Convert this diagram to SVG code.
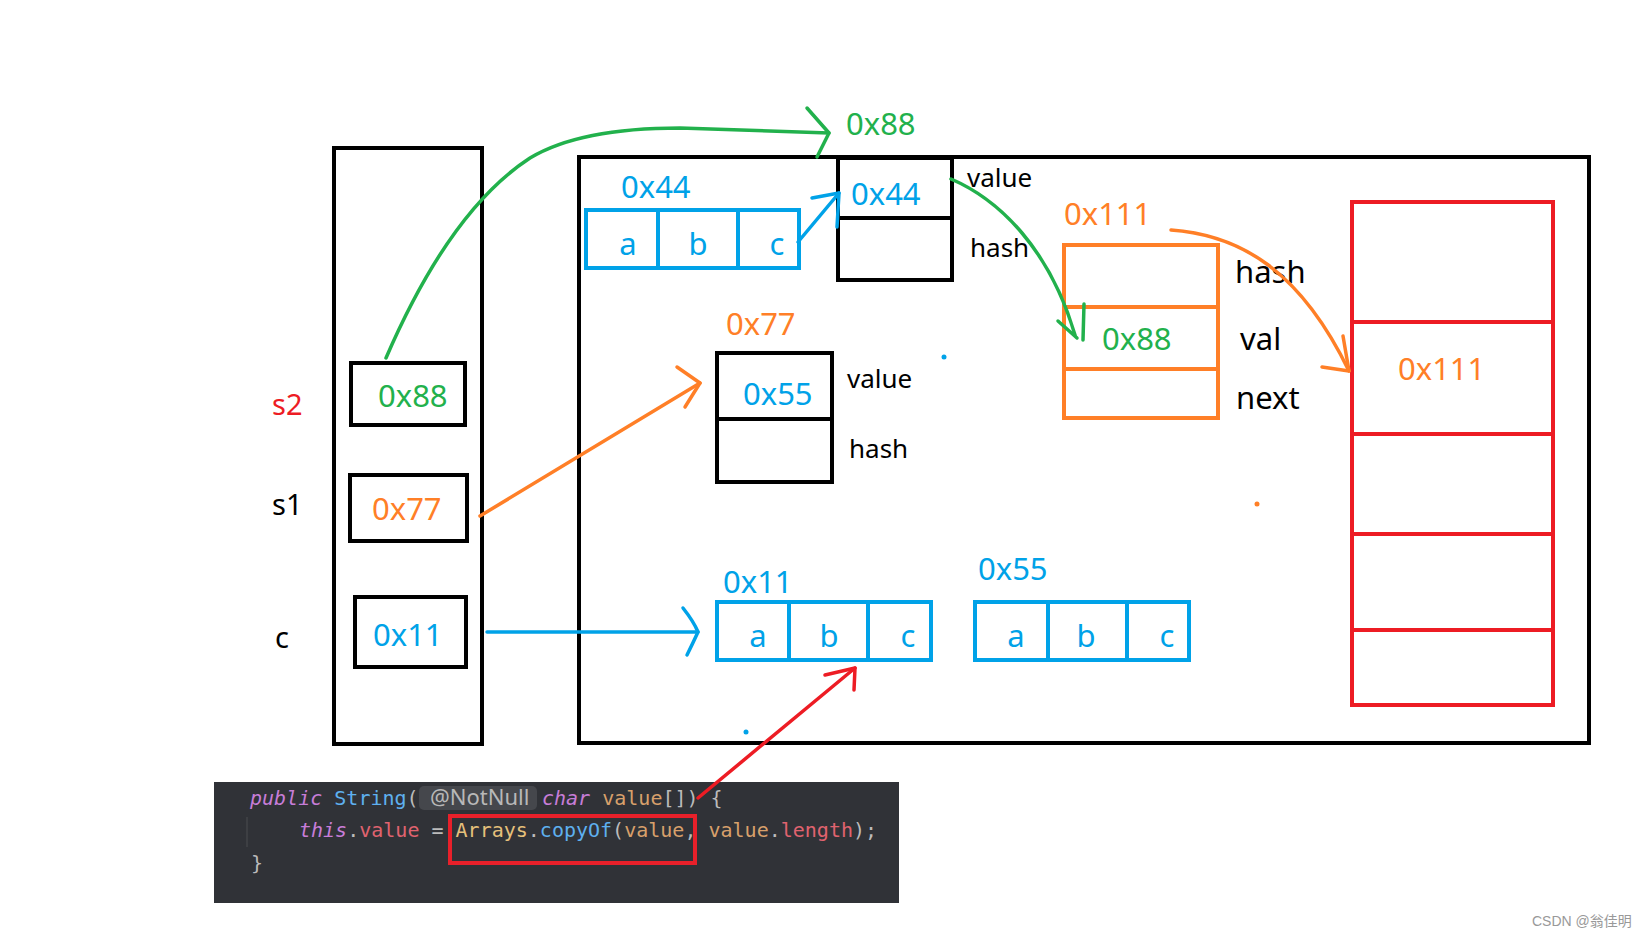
<svg xmlns="http://www.w3.org/2000/svg" width="1647" height="937" viewBox="0 0 1647 937">
<style>
text{font-family:"Noto Sans","Open Sans","Liberation Sans",sans-serif}
.k{fill:none;stroke:#000;stroke-width:4}
.bl{fill:none;stroke:#00a2e8;stroke-width:4}
.rd{fill:none;stroke:#ed1c24;stroke-width:4}
.or{fill:none;stroke:#ff7f27;stroke-width:4}
.t{font-size:31px}
.s{font-size:26px}
.g{fill:#22b14c}.b{fill:#00a2e8}.o{fill:#ff7f27}.r{fill:#ed1c24}.n{fill:#000}
.ag{fill:none;stroke:#22b14c;stroke-width:3.5;stroke-linecap:round;stroke-linejoin:round}
.ab{fill:none;stroke:#00a2e8;stroke-width:3.5;stroke-linecap:round;stroke-linejoin:round}
.ao{fill:none;stroke:#ff7f27;stroke-width:3.5;stroke-linecap:round;stroke-linejoin:round}
.ar{fill:none;stroke:#ed1c24;stroke-width:3.5;stroke-linecap:round;stroke-linejoin:round}
.code{font-family:"DejaVu Sans Mono","Liberation Mono",monospace;font-size:20px;fill:#bbbbbb}
.kw{fill:#c77dd8;font-style:italic}
.fn{fill:#5eb0ef}.ty{fill:#5eb0ef}.pa{fill:#d8a06b}.fi{fill:#e0636f}.cl{fill:#e5c07b}
</style>
<rect width="1647" height="937" fill="#fff"/>

<g id="stack">
<rect class="k" x="334" y="148" width="148" height="596"/>
<text class="t r" x="272" y="415" style="font-size:29px">s2</text>
<text class="t n" x="272" y="515" style="font-size:29px">s1</text>
<text class="t n" x="275" y="648" style="font-size:29px">c</text>
</g>
<g id="ref-s2"><rect class="k" x="351" y="363" width="114" height="62"/><text class="t g" x="378" y="407">0x88</text></g>
<g id="ref-s1"><rect class="k" x="350" y="475" width="117" height="66"/><text class="t o" x="372" y="520">0x77</text></g>
<g id="ref-c"><rect class="k" x="355" y="597" width="111" height="70"/><text class="t b" x="373" y="646">0x11</text></g>

<g id="heap"><rect class="k" x="579" y="157" width="1010" height="586"/></g>

<g id="arr-0x44">
<text class="t b" x="621" y="198">0x44</text>
<rect class="bl" x="586" y="210" width="213" height="58"/>
<line class="bl" x1="658" y1="210" x2="658" y2="268"/>
<line class="bl" x1="738" y1="210" x2="738" y2="268"/>
<text class="t b" x="628" y="255" text-anchor="middle">a</text>
<text class="t b" x="698" y="255" text-anchor="middle">b</text>
<text class="t b" x="777" y="255" text-anchor="middle">c</text>
</g>

<g id="str-0x88">
<text class="t g" x="846" y="135">0x88</text>
<rect class="k" x="838" y="158" width="114" height="122"/>
<line class="k" x1="838" y1="218" x2="952" y2="218"/>
<text class="t b" x="851" y="205">0x44</text>
<text class="s n" x="967" y="187">value</text>
<text class="s n" x="970" y="257">hash</text>
</g>

<g id="str-0x77">
<text class="t o" x="726" y="335">0x77</text>
<rect class="k" x="717" y="353" width="115" height="129"/>
<line class="k" x1="717" y1="419" x2="834" y2="419"/>
<text class="t b" x="743" y="405">0x55</text>
<text class="s n" x="847" y="388">value</text>
<text class="s n" x="849" y="458">hash</text>
</g>

<g id="node-0x111">
<text class="t o" x="1064" y="225">0x111</text>
<rect class="or" x="1064" y="245" width="154" height="173"/>
<line class="or" x1="1064" y1="307" x2="1218" y2="307"/>
<line class="or" x1="1064" y1="369" x2="1218" y2="369"/>
<text class="t g" x="1102" y="350">0x88</text>
<text class="t n" x="1235" y="283">hash</text>
<text class="t n" x="1240" y="350">val</text>
<text class="t n" x="1236" y="409">next</text>
</g>

<g id="table">
<rect class="rd" x="1352" y="202" width="201" height="503"/>
<line class="rd" x1="1352" y1="322" x2="1553" y2="322"/>
<line class="rd" x1="1352" y1="434" x2="1553" y2="434"/>
<line class="rd" x1="1352" y1="534" x2="1553" y2="534"/>
<line class="rd" x1="1352" y1="630" x2="1553" y2="630"/>
<text class="t o" x="1398" y="380">0x111</text>
</g>

<g id="arr-0x11">
<text class="t b" x="723" y="593">0x11</text>
<rect class="bl" x="717" y="602" width="214" height="58"/>
<line class="bl" x1="789" y1="602" x2="789" y2="660"/>
<line class="bl" x1="868" y1="602" x2="868" y2="660"/>
<text class="t b" x="758" y="647" text-anchor="middle">a</text>
<text class="t b" x="829" y="647" text-anchor="middle">b</text>
<text class="t b" x="908" y="647" text-anchor="middle">c</text>
</g>

<g id="arr-0x55">
<text class="t b" x="978" y="580">0x55</text>
<rect class="bl" x="975" y="602" width="214" height="58"/>
<line class="bl" x1="1048" y1="602" x2="1048" y2="660"/>
<line class="bl" x1="1127" y1="602" x2="1127" y2="660"/>
<text class="t b" x="1016" y="647" text-anchor="middle">a</text>
<text class="t b" x="1086" y="647" text-anchor="middle">b</text>
<text class="t b" x="1167" y="647" text-anchor="middle">c</text>
</g>

<g id="code">
<rect x="214" y="782" width="685" height="121" fill="#303237"/>
<line x1="247" y1="817" x2="247" y2="847" stroke="#4a4c50" stroke-width="1"/>
<rect x="419" y="786" width="118" height="24" rx="5" fill="#45474c"/>
<text class="code" x="250" y="805" xml:space="preserve"><tspan class="kw">public</tspan> <tspan class="ty">String</tspan>(</text>
<text x="430" y="805" style="font-size:22px;fill:#b8b8b8">@NotNull</text>
<text class="code" x="542" y="805" xml:space="preserve"><tspan class="kw">char</tspan> <tspan class="pa">value</tspan>[]) {</text>
<text class="code" x="299" y="837" xml:space="preserve"><tspan class="kw">this</tspan>.<tspan class="fi">value</tspan> = <tspan class="cl">Arrays</tspan>.<tspan class="fn">copyOf</tspan>(<tspan class="pa">value</tspan>, <tspan class="pa">value</tspan>.<tspan class="fi">length</tspan>);</text>
<text class="code" x="251" y="870">}</text>
<rect x="450" y="816" width="245" height="47" fill="none" stroke="#e8202a" stroke-width="4"/>
</g>

<g id="connectors">
<path class="ag" d="M386,358 Q450,210 530,158 Q580,128 680,128 L829,133"/>
<polyline class="ag" points="807,108 829,133 817,157"/>
<path class="ag" d="M951,179 C1000,200 1050,250 1075,335"/>
<polyline class="ag" points="1058,321 1077,338"/>
<polyline class="ag" points="1084,304 1083,340"/>
<path class="ao" d="M1171,230 C1240,235 1300,270 1349,371"/>
<polyline class="ao" points="1322,367 1349,371 1343,336"/>
<line class="ao" x1="480" y1="516" x2="700" y2="383"/>
<polyline class="ao" points="677,367 700,383 685,407"/>
<line class="ab" x1="487" y1="632" x2="698" y2="632"/>
<path class="ab" d="M683,608 Q694,622 698,632 Q692,645 687,655"/>
<line class="ab" x1="798" y1="242" x2="839" y2="193"/>
<polyline class="ab" points="812,198 839,193 837,227"/>
<line class="ar" x1="698" y1="798" x2="855" y2="668"/>
<polyline class="ar" points="825,675 855,668 854,690"/>
</g>

<circle cx="944" cy="357" r="2.5" fill="#00a2e8"/>
<circle cx="1257" cy="504" r="2.5" fill="#ff7f27"/>
<circle cx="746" cy="732" r="2.5" fill="#00a2e8"/>

<text x="1532" y="926" style="font-family:'Liberation Sans','Noto Sans CJK SC',sans-serif;font-size:14px;fill:#999">CSDN @翁佳明</text>
</svg>
